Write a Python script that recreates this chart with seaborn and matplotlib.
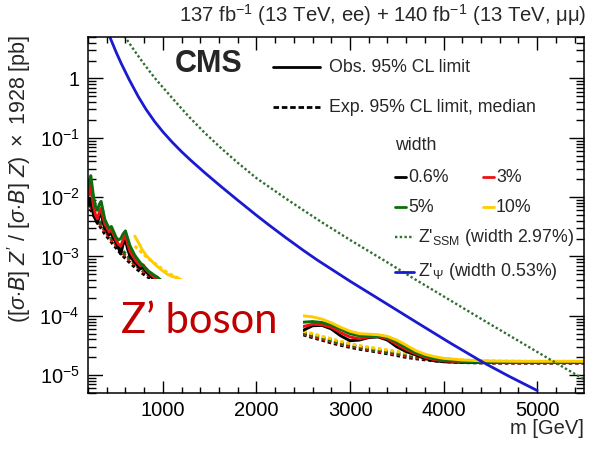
import numpy as np
import pandas as pd
import matplotlib
matplotlib.use("Agg")
import matplotlib.pyplot as plt
import seaborn as sns
from matplotlib.lines import Line2D
from matplotlib.patches import Rectangle
from matplotlib.ticker import LogLocator, FuncFormatter, MultipleLocator, FixedLocator, NullFormatter

# ---------------- data ----------------
widths = ["0.6%", "3%", "5%", "10%"]
width_colors = ["#000000", "#ee1111", "#0b6e0b", "#ffcc00"]

# low-mass scan (GeV) for 0.6%, 3%, 5% widths
m_low = [200, 215, 230, 245, 260, 280, 300, 320, 340, 360, 380, 400, 425, 450, 475, 500, 525,
         550, 575, 600, 625, 650, 675, 700, 730, 760, 790, 820, 850, 880, 910, 940, 970, 1000]
obs_low_06 = [1.0e-2, 7.5e-3, 9.5e-3, 6.5e-3, 5.0e-3, 4.2e-3, 3.6e-3, 4.8e-3, 5.5e-3, 3.8e-3, 3.0e-3,
              2.7e-3, 2.3e-3, 2.5e-3, 2.0e-3, 1.7e-3, 1.4e-3, 1.1e-3, 1.6e-3, 1.9e-3, 1.3e-3, 1.0e-3,
              9.0e-4, 8.0e-4, 7.0e-4, 6.2e-4, 6.8e-4, 5.5e-4, 5.0e-4, 4.5e-4, 4.0e-4, 3.7e-4, 3.4e-4, 3.1e-4]
obs_low_3 = [1.3e-2, 1.1e-2, 1.6e-2, 1.0e-2, 7.0e-3, 5.0e-3, 4.3e-3, 5.5e-3, 6.5e-3, 4.6e-3, 3.5e-3,
             3.1e-3, 2.6e-3, 2.8e-3, 2.3e-3, 1.9e-3, 1.6e-3, 1.5e-3, 1.9e-3, 2.3e-3, 1.6e-3, 1.2e-3,
             1.05e-3, 9.0e-4, 7.8e-4, 7.0e-4, 7.2e-4, 6.0e-4, 5.4e-4, 4.9e-4, 4.4e-4, 4.0e-4, 3.6e-4, 3.3e-4]
obs_low_5 = [1.4e-2, 1.9e-2, 2.3e-2, 1.5e-2, 1.0e-2, 7.0e-3, 6.0e-3, 7.5e-3, 8.5e-3, 6.0e-3, 4.2e-3,
             3.6e-3, 3.0e-3, 3.2e-3, 2.6e-3, 2.1e-3, 1.9e-3, 2.0e-3, 2.4e-3, 2.7e-3, 2.0e-3, 1.5e-3,
             1.25e-3, 1.05e-3, 9.0e-4, 7.8e-4, 7.0e-4, 6.3e-4, 5.6e-4, 5.2e-4, 4.8e-4, 4.5e-4, 4.1e-4, 3.8e-4]
exp_low_06 = [8.0e-3, 7.0e-3, 6.2e-3, 5.5e-3, 4.9e-3, 4.3e-3, 3.8e-3, 3.4e-3, 3.0e-3, 2.7e-3, 2.4e-3,
              2.2e-3, 1.95e-3, 1.75e-3, 1.55e-3, 1.4e-3, 1.25e-3, 1.12e-3, 1.02e-3, 9.3e-4, 8.5e-4, 7.8e-4,
              7.2e-4, 6.6e-4, 6.0e-4, 5.5e-4, 5.1e-4, 4.7e-4, 4.4e-4, 4.1e-4, 3.8e-4, 3.5e-4, 3.3e-4, 3.1e-4]
exp_low_3 = [8.8e-3, 7.7e-3, 6.8e-3, 6.0e-3, 5.4e-3, 4.7e-3, 4.2e-3, 3.7e-3, 3.3e-3, 3.0e-3, 2.65e-3,
             2.4e-3, 2.15e-3, 1.9e-3, 1.7e-3, 1.55e-3, 1.38e-3, 1.23e-3, 1.12e-3, 1.02e-3, 9.4e-4, 8.6e-4,
             7.9e-4, 7.3e-4, 6.6e-4, 6.1e-4, 5.6e-4, 5.2e-4, 4.8e-4, 4.5e-4, 4.2e-4, 3.9e-4, 3.6e-4, 3.4e-4]
exp_low_5 = [9.5e-3, 8.4e-3, 7.4e-3, 6.6e-3, 5.9e-3, 5.1e-3, 4.6e-3, 4.0e-3, 3.6e-3, 3.2e-3, 2.9e-3,
             2.6e-3, 2.35e-3, 2.1e-3, 1.85e-3, 1.68e-3, 1.5e-3, 1.34e-3, 1.22e-3, 1.11e-3, 1.02e-3, 9.3e-4,
             8.6e-4, 7.9e-4, 7.2e-4, 6.6e-4, 6.1e-4, 5.6e-4, 5.2e-4, 4.8e-4, 4.5e-4, 4.2e-4, 3.9e-4, 3.7e-4]

# the 10% width scan starts at higher mass
m_low_10 = [700, 740, 780, 820, 860, 900, 950, 1000, 1050, 1100, 1150, 1200]
obs_low_10 = [2.2e-3, 1.7e-3, 1.3e-3, 1.05e-3, 9.0e-4, 7.8e-4, 6.6e-4, 5.7e-4, 5.0e-4, 4.6e-4, 4.4e-4, 4.0e-4]
exp_low_10 = [1.5e-3, 1.3e-3, 1.15e-3, 1.0e-3, 8.9e-4, 7.9e-4, 6.9e-4, 6.0e-4, 5.3e-4, 4.8e-4, 4.4e-4, 4.1e-4]

# high-mass scan (GeV)
m_high = [2500, 2600, 2700, 2800, 2900, 3000, 3100, 3200, 3300, 3400, 3500, 3600,
          3700, 3800, 3900, 4000, 4200, 4400, 4600, 4800, 5000, 5200, 5500]
obs_high_06 = [5.7e-5, 6.8e-5, 6.9e-5, 6.0e-5, 4.6e-5, 3.8e-5, 3.9e-5, 4.3e-5, 4.4e-5, 3.9e-5, 3.0e-5, 2.5e-5,
               2.2e-5, 1.9e-5, 1.75e-5, 1.68e-5, 1.64e-5, 1.63e-5, 1.63e-5, 1.63e-5, 1.63e-5, 1.63e-5, 1.63e-5]
obs_high_3 = [6.6e-5, 7.2e-5, 7.1e-5, 6.4e-5, 5.2e-5, 4.4e-5, 4.1e-5, 4.4e-5, 4.5e-5, 4.1e-5, 3.3e-5, 2.7e-5,
              2.3e-5, 2.0e-5, 1.82e-5, 1.74e-5, 1.67e-5, 1.65e-5, 1.65e-5, 1.65e-5, 1.65e-5, 1.65e-5, 1.65e-5]
obs_high_5 = [7.8e-5, 8.0e-5, 7.7e-5, 7.0e-5, 5.9e-5, 5.0e-5, 4.6e-5, 4.6e-5, 4.6e-5, 4.3e-5, 3.6e-5, 2.9e-5,
              2.4e-5, 2.1e-5, 1.9e-5, 1.79e-5, 1.7e-5, 1.67e-5, 1.67e-5, 1.67e-5, 1.67e-5, 1.67e-5, 1.67e-5]
obs_high_10 = [1.0e-4, 9.6e-5, 8.8e-5, 7.6e-5, 6.4e-5, 5.5e-5, 5.0e-5, 4.9e-5, 4.8e-5, 4.5e-5, 3.9e-5, 3.2e-5,
               2.6e-5, 2.25e-5, 2.05e-5, 1.92e-5, 1.8e-5, 1.75e-5, 1.72e-5, 1.71e-5, 1.71e-5, 1.71e-5, 1.71e-5]
exp_high_06 = [4.8e-5, 4.3e-5, 3.9e-5, 3.5e-5, 3.2e-5, 2.95e-5, 2.75e-5, 2.6e-5, 2.45e-5, 2.3e-5, 2.15e-5, 2.0e-5,
               1.9e-5, 1.82e-5, 1.75e-5, 1.7e-5, 1.64e-5, 1.61e-5, 1.6e-5, 1.6e-5, 1.6e-5, 1.6e-5, 1.6e-5]
exp_high_3 = [5.0e-5, 4.5e-5, 4.1e-5, 3.7e-5, 3.35e-5, 3.1e-5, 2.9e-5, 2.7e-5, 2.55e-5, 2.4e-5, 2.25e-5, 2.1e-5,
              1.98e-5, 1.88e-5, 1.8e-5, 1.74e-5, 1.67e-5, 1.63e-5, 1.62e-5, 1.62e-5, 1.62e-5, 1.62e-5, 1.62e-5]
exp_high_5 = [5.2e-5, 4.7e-5, 4.3e-5, 3.9e-5, 3.5e-5, 3.25e-5, 3.0e-5, 2.8e-5, 2.65e-5, 2.5e-5, 2.35e-5, 2.2e-5,
              2.05e-5, 1.95e-5, 1.86e-5, 1.79e-5, 1.7e-5, 1.66e-5, 1.65e-5, 1.65e-5, 1.65e-5, 1.65e-5, 1.65e-5]
exp_high_10 = [5.5e-5, 5.0e-5, 4.5e-5, 4.1e-5, 3.7e-5, 3.4e-5, 3.15e-5, 2.95e-5, 2.8e-5, 2.65e-5, 2.5e-5, 2.35e-5,
               2.2e-5, 2.08e-5, 1.98e-5, 1.9e-5, 1.8e-5, 1.74e-5, 1.72e-5, 1.71e-5, 1.7e-5, 1.7e-5, 1.7e-5]

# benchmark model predictions
m_psi = [400, 430, 500, 556, 640, 735, 820, 913, 1000, 1100, 1200, 1300, 1450, 1626, 1800, 2000,
         2125, 2300, 2500, 2650, 3000, 3360, 3715, 4072, 4428, 4700, 5000]
xs_psi = [6.76, 5.15, 2.79, 1.778, 0.957, 0.502, 0.302, 0.1866, 0.1262, 0.0843, 0.0583, 0.0415, 0.0256,
          0.0149, 8.87e-3, 4.94e-3, 3.47e-3, 2.15e-3, 1.27e-3, 8.71e-4, 3.83e-4, 1.71e-4, 7.69e-5,
          3.47e-5, 1.62e-5, 9.55e-6, 5.5e-6]
m_ssm = [560, 600, 700, 800, 913, 1000, 1100, 1270, 1450, 1626, 1800, 2000, 2339, 2695, 3000, 3358,
         3700, 4072, 4400, 4785, 5034, 5500]
xs_ssm = [6.03, 4.9, 2.88, 1.74, 1.02, 0.708, 0.468, 0.234, 0.120, 0.066, 0.038, 0.0209, 8.9e-3, 3.8e-3,
          1.9e-3, 8.7e-4, 4.07e-4, 1.82e-4, 8.9e-5, 3.9e-5, 2.29e-5, 8.5e-6]

x_ticks = [1000, 2000, 3000, 4000, 5000]

# ---------------- tidy tables ----------------
rows = []
low_sets = {"0.6%": (m_low, obs_low_06, exp_low_06), "3%": (m_low, obs_low_3, exp_low_3),
            "5%": (m_low, obs_low_5, exp_low_5), "10%": (m_low_10, obs_low_10, exp_low_10)}
high_sets = {"0.6%": (obs_high_06, exp_high_06), "3%": (obs_high_3, exp_high_3),
             "5%": (obs_high_5, exp_high_5), "10%": (obs_high_10, exp_high_10)}
for w in widths:
    mm, ob, ex = low_sets[w]
    for m, o, e in zip(mm, ob, ex):
        rows.append((m, o, w, "obs", "low"))
        rows.append((m, e, w, "exp", "low"))
    ob, ex = high_sets[w]
    for m, o, e in zip(m_high, ob, ex):
        rows.append((m, o, w, "obs", "high"))
        rows.append((m, e, w, "exp", "high"))
limits = pd.DataFrame(rows, columns=["m", "limit", "width", "kind", "segment"])
psi = pd.DataFrame({"m": m_psi, "xs": xs_psi})
ssm = pd.DataFrame({"m": m_ssm, "xs": xs_ssm})

# ---------------- style ----------------
sns.set_theme(style="ticks")
plt.rcParams["font.family"] = ["Liberation Sans", "DejaVu Sans"]
plt.rcParams["mathtext.fontset"] = "custom"
plt.rcParams["mathtext.rm"] = "Liberation Sans"
plt.rcParams["mathtext.it"] = "Liberation Sans:italic"
plt.rcParams["mathtext.bf"] = "Liberation Sans:bold"
plt.rcParams["mathtext.cal"] = "DejaVu Sans:italic"

W, H = 589, 451
fig = plt.figure(figsize=(W / 100, H / 100), dpi=100)
ax = fig.add_axes([88 / W, 1 - 393 / H, 496 / W, 356 / H])

palette = dict(zip(widths, width_colors))

# expected (dashed) below observed (solid)
sns.lineplot(data=limits[limits.kind == "exp"], x="m", y="limit", hue="width", hue_order=widths,
             units="segment", estimator=None, sort=False, palette=palette, linewidth=2.3,
             legend=False, ax=ax, zorder=1.5)
for ln in ax.get_lines():
    ln.set_dashes((1.1, 0.9))
sns.lineplot(data=limits[limits.kind == "obs"], x="m", y="limit", hue="width", hue_order=widths,
             units="segment", estimator=None, sort=False, palette=palette, linewidth=2.1,
             legend=False, ax=ax, zorder=1.7)

sns.lineplot(data=ssm, x="m", y="xs", color="#2f6f2f", linewidth=1.7, ax=ax, legend=False)
ax.get_lines()[-1].set_dashes((1.0, 1.0))
sns.lineplot(data=psi, x="m", y="xs", color="#1a1ad0", linewidth=2.0, ax=ax, legend=False)

ax.set_yscale("log")
ax.set_xlim(200, 5500)
ax.set_ylim(5e-6, 5)
ax.set_xlabel("")
ax.set_ylabel("")

# axis frame & ticks
for s in ax.spines.values():
    s.set_linewidth(1.1)
    s.set_color("black")
ax.xaxis.set_major_locator(FixedLocator(x_ticks))
ax.xaxis.set_minor_locator(MultipleLocator(200))
ax.xaxis.set_minor_formatter(NullFormatter())
ax.yaxis.set_major_locator(LogLocator(base=10, numticks=20))
ax.yaxis.set_minor_locator(LogLocator(base=10, subs=np.arange(2, 10), numticks=20))
ax.yaxis.set_minor_formatter(NullFormatter())
ax.yaxis.set_major_formatter(FuncFormatter(
    lambda v, _: "1" if abs(v - 1) < 1e-9 else r"$10^{%d}$" % int(round(np.log10(v)))))
ax.tick_params(which="both", direction="in", top=True, right=True, color="black", width=1.0,
               labelsize=14.5, labelcolor="black")
ax.tick_params(which="major", length=9, pad=6)
ax.tick_params(which="minor", length=4.5)
ax.tick_params(axis="y", which="major", length=11)
ax.tick_params(axis="y", which="minor", length=6)

# white label panel with annotation
ax.add_patch(Rectangle((0.03, 0.04), 0.4035, 0.2816, transform=ax.transAxes,
                       facecolor="white", edgecolor="none", zorder=2.2))
ax.text(0.2238, 0.1685, "Z\u2019 boson", transform=ax.transAxes, ha="center", va="baseline",
        fontsize=30, color="#c00000", family=["Lato", "DejaVu Sans"], zorder=3)

# texts around the frame
def fx(px):
    return px / W

def fy(py):
    return 1 - py / H

fig.text(fx(586), fy(15), "137 fb$^{-1}$ (13 TeV, ee) + 140 fb$^{-1}$ (13 TeV, \u03bc\u03bc)",
         ha="right", va="center", fontsize=14.6)
fig.text(fx(584), fy(429), "m [GeV]", ha="right", va="center", fontsize=14.5)
fig.text(fx(19), fy(35),
         r"$([\sigma{\cdot}\mathcal{B}]\ Z'\ /\ [\sigma{\cdot}\mathcal{B}]\ Z)\ \times$ 1928 [pb]",
         rotation=90, ha="center", va="top", fontsize=15.5)
fig.text(fx(175), fy(64), "CMS", ha="left", va="center", fontsize=22, fontweight="bold")

# legend block
def key(x0, x1, y, **kw):
    fig.add_artist(Line2D([fx(x0), fx(x1)], [fy(y), fy(y)], transform=fig.transFigure, **kw))

def lab(x, y, s):
    fig.text(fx(x), fy(y), s, ha="left", va="center", fontsize=12.8)

key(273, 320, 67, color="black", linewidth=2.0)
lab(329, 68, "Obs. 95% CL limit")
key(273, 320, 107, color="black", linewidth=2.0, dashes=(2.0, 1.0))
lab(329, 108, "Exp. 95% CL limit, median")
lab(395, 146, "width")
for (w, c), (x0, y) in zip(palette.items(), [(395, 177), (483, 177), (395, 207), (483, 207)]):
    key(x0, x0 + 11, y, color=c, linewidth=2.0)
    lab(x0 + 13, y, w)
key(395, 414, 237, color="#2f6f2f", linewidth=1.7, dashes=(1.0, 1.0))
lab(418, 237, r"Z$'_{\mathrm{SSM}}$ (width 2.97%)")
key(395, 414, 272, color="#1a1ad0", linewidth=2.0)
lab(418, 272, r"Z$'_{\Psi}$ (width 0.53%)")

fig.savefig("out.png", dpi=100, facecolor="white")
